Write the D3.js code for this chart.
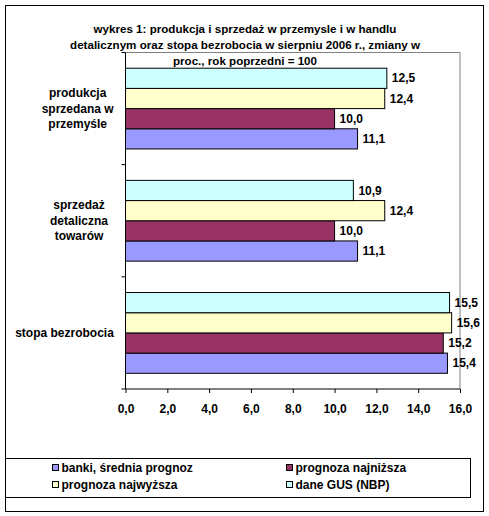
<!DOCTYPE html>
<html>
<head>
        <meta charset="utf-8">
        <script src="https://d3js.org/d3.v7.min.js"></script>
        <style>
            body { margin: 0; background: #fff; }
            text { font-family: "Liberation Sans", Arial, sans-serif; font-weight: bold; fill: #000; }
        </style>
</head>
<body>
        <script type="text/javascript">

            // Data
            var title_lines = ["wykres 1: produkcja i sprzedaż w przemysle i w handlu",
                               "detalicznym oraz stopa bezrobocia w sierpniu 2006 r., zmiany w",
                               "proc., rok poprzedni = 100"];
            var categories = [["produkcja", "sprzedana w", "przemyśle"],
                              ["sprzedaż", "detaliczna", "towarów"],
                              ["stopa bezrobocia"]];
            var series_names = ["banki, średnia prognoz", "prognoza najniższa", "prognoza najwyższa", "dane GUS (NBP)"];
            var srednia   = [11.1, 11.1, 15.4];
            var najnizsza = [10.0, 10.0, 15.2];
            var najwyzsza = [12.4, 12.4, 15.6];
            var dane_gus  = [12.5, 10.9, 15.5];
            var x_ticks = [0, 2, 4, 6, 8, 10, 12, 14, 16];

            function draw() {

                    var w = 489;
                    var h = 516;

                    var plot = {left: 125.5, right: 460, top: 52.5, bottom: 389};

                    var colors = ["#9999FF", "#993366", "#FFFFCC", "#CCFFFF"];
                    var values = [srednia, najnizsza, najwyzsza, dane_gus];

                    var fmt = function(v) { return d3.format(".1f")(v).replace(".", ","); };

                    var x = d3.scaleLinear()
                        .domain([0, 16])
                        .range([plot.left, plot.right]);

                    var y = d3.scaleBand()
                        .domain(d3.range(categories.length))
                        .range([plot.top, plot.bottom])
                        .paddingInner(0.28)
                        .paddingOuter(0.14);

                    // series drawn top to bottom in reverse order (Excel style)
                    var ys = d3.scaleBand()
                        .domain([3, 2, 1, 0])
                        .range([0, y.bandwidth()]);

                    var bars = [];
                    values.forEach(function(arr, s) {
                        arr.forEach(function(v, c) {
                            bars.push({s: s, c: c, v: v});
                        });
                    });

/*************************************************************************************************/
/* Add Elements */
                    var svg = d3.select("body")
                        .append("svg")
                            .attr("width", w)
                            .attr("height", h);

                    svg.append("rect")
                        .attr("x", 5.5).attr("y", 5.5)
                        .attr("width", 478).attr("height", 506)
                        .attr("fill", "#fff")
                        .attr("stroke", "#000");

                    // plot area frame (grey top and right)
                    svg.append("path")
                        .attr("d", "M" + plot.left + "," + plot.top + "H" + plot.right + "V" + plot.bottom)
                        .attr("fill", "none")
                        .attr("stroke", "#808080");

                    svg.selectAll(".bar")
                        .data(bars)
                        .enter().append("rect")
                            .attr("class", "bar")
                            .attr("x", x(0))
                            .attr("y", function(d) { return y(d.c) + ys(d.s); })
                            .attr("width", function(d) { return x(d.v) - x(0); })
                            .attr("height", ys.bandwidth())
                            .attr("fill", function(d) { return colors[d.s]; })
                            .attr("stroke", "#000")
                            .attr("stroke-width", 1);

                    svg.selectAll(".val")
                        .data(bars)
                        .enter().append("text")
                            .attr("class", "val")
                            .attr("x", function(d) { return x(d.v) + 5; })
                            .attr("y", function(d) { return y(d.c) + ys(d.s) + ys.bandwidth() / 2; })
                            .attr("dy", "0.35em")
                            .attr("font-size", "12px")
                            .text(function(d) { return fmt(d.v); });

                    // bottom axis
                    var xAxis = svg.append("g")
                        .attr("transform", "translate(0," + plot.bottom + ")")
                        .call(d3.axisBottom(x).tickValues(x_ticks).tickSize(4).tickPadding(11).tickFormat(fmt));
                    xAxis.select(".domain").attr("d", "M" + plot.left + ",0H" + plot.right);
                    xAxis.selectAll("text")
                        .attr("font-size", "12px")
                        .attr("font-family", null);

                    // left axis with ticks between categories
                    var step = y.step();
                    var bounds = d3.range(categories.length + 1).map(function(i) { return plot.top + i * step; });
                    svg.append("line")
                        .attr("x1", plot.left).attr("x2", plot.left)
                        .attr("y1", plot.top).attr("y2", plot.bottom)
                        .attr("stroke", "#000");
                    svg.selectAll(".ytick")
                        .data(bounds)
                        .enter().append("line")
                            .attr("class", "ytick")
                            .attr("x1", plot.left - 4).attr("x2", plot.left)
                            .attr("y1", function(d) { return d; }).attr("y2", function(d) { return d; })
                            .attr("stroke", "#000");

                    // category labels
                    categories.forEach(function(lines, c) {
                        var cy = y(c) + y.bandwidth() / 2;
                        var t = svg.append("text")
                            .attr("font-size", "12px")
                            .attr("text-anchor", "middle");
                        lines.forEach(function(l, i) {
                            t.append("tspan")
                                .attr("x", 0)
                                .attr("y", cy + (i - (lines.length - 1) / 2) * 15.5)
                                .attr("dy", "0.35em")
                                .text(l);
                        });
                        var bw = t.node().getBBox().width;
                        var cx = Math.min(79, 114 - bw / 2);
                        t.selectAll("tspan").attr("x", cx);
                    });

                    // title
                    svg.selectAll(".title")
                        .data(title_lines)
                        .enter().append("text")
                            .attr("class", "title")
                            .attr("x", 245)
                            .attr("y", function(d, i) { return 33 + i * 16; })
                            .attr("text-anchor", "middle")
                            .attr("font-size", "11.6px")
                            .text(function(d) { return d; });

                    // legend
                    svg.append("rect")
                        .attr("x", 5.5).attr("y", 458.5)
                        .attr("width", 465).attr("height", 39)
                        .attr("fill", "#fff")
                        .attr("stroke", "#000");

                    var leg = svg.selectAll(".leg")
                        .data(series_names)
                        .enter().append("g")
                            .attr("class", "leg")
                            .attr("transform", function(d, i) {
                                return "translate(" + (i % 2 ? 286.5 : 52.5) + "," + (467.5 + Math.floor(i / 2) * 17) + ")";
                            });
                    leg.append("rect")
                        .attr("x", 0).attr("y", -3)
                        .attr("width", 6).attr("height", 6)
                        .attr("fill", function(d, i) { return colors[i]; })
                        .attr("stroke", "#000");
                    leg.append("text")
                        .attr("x", 9)
                        .attr("dy", "0.35em")
                        .attr("font-size", "12px")
                        .text(function(d) { return d; });
            };

            draw();

        </script>
</body>
</html>
